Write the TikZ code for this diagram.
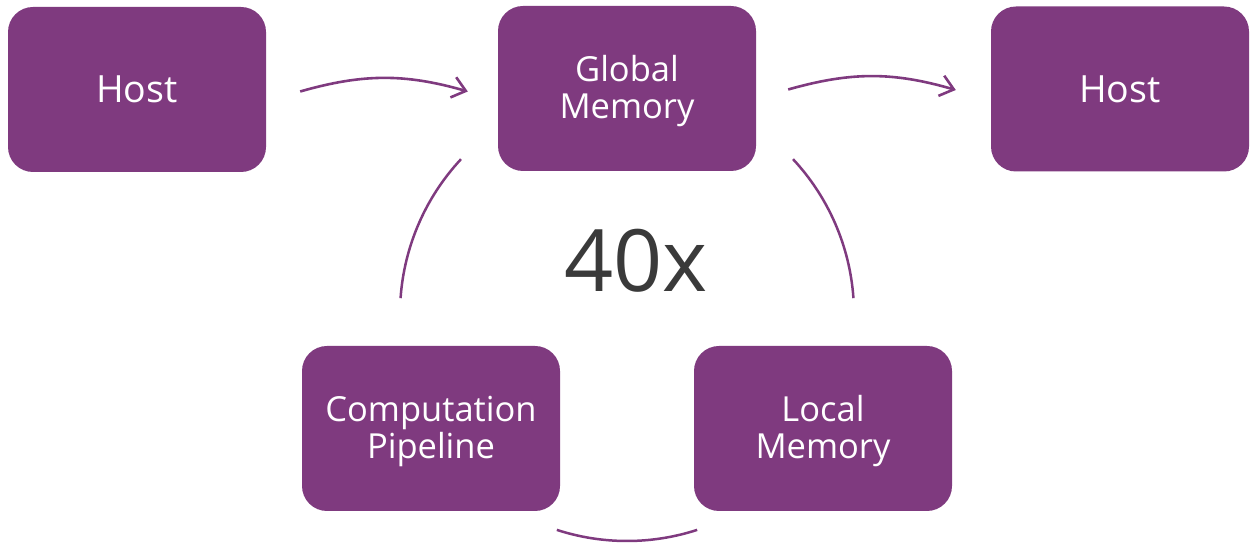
\documentclass[tikz,border=0pt]{standalone}
\usepackage{fontspec}
\setmainfont{Open Sans}
\usetikzlibrary{arrows.meta}
\definecolor{boxpurple}{HTML}{7F3A7F}
\definecolor{txtgray}{HTML}{3A3A3A}
\newcommand{\topstrut}{\rule{0pt}{32pt}}
\begin{document}
\begin{tikzpicture}[x=1pt,y=1pt,
  box/.style={fill=boxpurple, draw=none, rounded corners=25pt, minimum width=258pt, minimum height=165pt,
    text=white, align=center, font=\fontsize{34.5}{37}\selectfont},
  hostbox/.style={box, font=\fontsize{37.5}{40}\selectfont},
  flow/.style={draw=boxpurple, line width=2.6pt, -{Straight Barb[length=13pt,width=21pt,line width=2.6pt]}},
  ring/.style={draw=boxpurple, line width=2.5pt}]
\useasboundingbox (0,0) rectangle (1255,548);
\node[hostbox] (h1) at (137,458.5) {Host};
\node[box] (gm) at (627,459.5) {\topstrut Global\\Memory};
\node[hostbox] (h2) at (1120,459) {Host};
\node[box] (cp) at (431,119.5) {\topstrut Computation\\Pipeline};
\node[box] (lm) at (823,119.5) {\topstrut Local\\Memory};
\node[text=txtgray, font=\fontsize{86}{96}\selectfont] (n40) at (636,287) {40x};
\coordinate (c) at (627,234);
\draw[flow] ([xshift=34pt,yshift=-2pt]h1.east) to[bend left=16] ([xshift=-30pt,yshift=-3pt]gm.west);
\draw[flow] ([xshift=32pt,yshift=-1pt]gm.east) to[bend left=16] ([xshift=-35pt,yshift=-1pt]h2.west);
\draw[ring] ([shift={(137:227pt)}]c) arc[start angle=137, end angle=176, radius=227pt];
\draw[ring] ([shift={(252:227pt)}]c) arc[start angle=252, end angle=288, radius=227pt];
\draw[ring] ([shift={(4:227pt)}]c) arc[start angle=4, end angle=43, radius=227pt];
\end{tikzpicture}
\end{document}
